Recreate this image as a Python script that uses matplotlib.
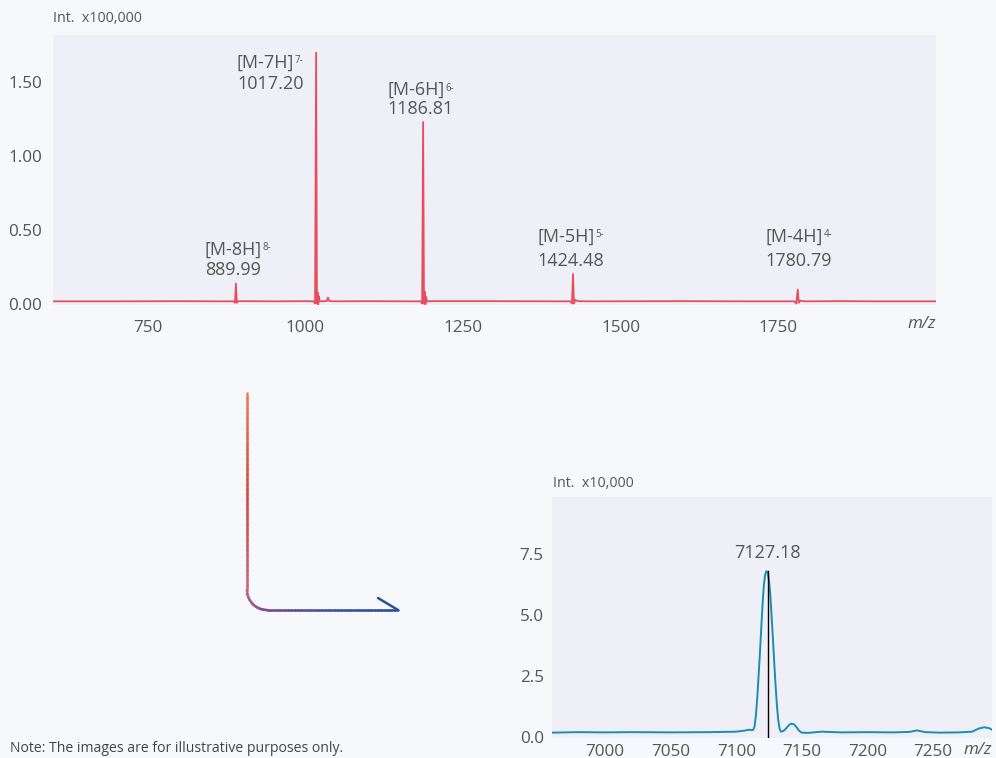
import numpy as np
import matplotlib
matplotlib.use('Agg')
import matplotlib.pyplot as plt
from matplotlib.collections import LineCollection
from matplotlib.colors import LinearSegmentedColormap

plt.rcParams['font.family'] = ['Open Sans', 'DejaVu Sans']

#%% Data - full spectrum (m/z, Int. x100,000)
top_mz = [600, 700, 800, 870, 886, 888.5, 889.99, 891.5, 893, 900, 950, 1000,
          1013, 1015.5, 1017.2, 1018.5, 1019.5, 1020.5, 1021.5, 1023, 1030, 1034, 1036,
          1038, 1045, 1100, 1170, 1183, 1185.3, 1186.81, 1188.2, 1189.5, 1190.5,
          1191.5, 1193, 1200, 1300, 1400, 1420, 1422.8, 1424.48, 1426, 1428, 1432,
          1450, 1600, 1700, 1775, 1778.5, 1780.79, 1782.5, 1785, 1790, 1850, 1900,
          1950, 2000]
top_int = [0.015, 0.015, 0.016, 0.015, 0.015, 0.005, 0.135, 0.005, 0.015, 0.016, 0.015, 0.016,
           0.015, 0.0, 1.70, 0.0, 0.075, -0.005, 0.05, 0.015, 0.016, 0.017, 0.04,
           0.017, 0.015, 0.016, 0.015, 0.015, 0.0, 1.23, 0.0, 0.08, -0.005,
           0.045, 0.015, 0.016, 0.016, 0.015, 0.015, 0.0, 0.20, 0.0, 0.025, 0.016,
           0.015, 0.016, 0.015, 0.015, 0.0, 0.095, 0.005, 0.02, 0.015, 0.016, 0.015,
           0.015, 0.015]

peak_mz = [889.99, 1017.20, 1186.81, 1424.48, 1780.79]
peak_name = ['[M-8H]', '[M-7H]', '[M-6H]', '[M-5H]', '[M-4H]']
peak_charge = ['8-', '7-', '6-', '5-', '4-']
top_xticks = [750, 1000, 1250, 1500, 1750]
top_yticks = [0.0, 0.5, 1.0, 1.5]

# deconvoluted spectrum (m/z, Int. x10,000)
bot_mz = [6960, 6980, 7000, 7020, 7050, 7080, 7100, 7106, 7110, 7112, 7113,
          7114, 7115, 7116, 7117, 7118, 7119, 7120, 7121, 7122, 7123, 7124,
          7125, 7126, 7127, 7128, 7129, 7130, 7131, 7132, 7133, 7134, 7136,
          7138, 7140, 7142, 7144, 7146, 7148, 7150, 7155, 7165, 7180, 7200,
          7220, 7232, 7238, 7244, 7255, 7270, 7280, 7285, 7289, 7293, 7295]
bot_int = [0.18, 0.20, 0.19, 0.20, 0.19, 0.20, 0.22, 0.26, 0.30, 0.28, 0.30,
           0.45, 0.9, 1.6, 2.5, 3.4, 4.4, 5.4, 6.2, 6.65, 6.8, 6.75,
           6.4, 5.8, 4.9, 4.0, 3.0, 2.1, 1.3, 0.7, 0.35, 0.22, 0.25,
           0.35, 0.48, 0.55, 0.52, 0.40, 0.25, 0.18, 0.17, 0.22, 0.19, 0.20,
           0.19, 0.21, 0.27, 0.20, 0.18, 0.19, 0.22, 0.35, 0.40, 0.36, 0.30]
bot_peak = 7124
bot_label = '7127.18'
bot_xticks = [7000, 7050, 7100, 7150, 7200, 7250]
bot_yticks = [0.0, 2.5, 5.0, 7.5]

#%% Style
txt = '#555555'
red = '#e63c4e'
teal = '#1b8db0'
panel = '#eff0f7'

W, H = 996, 758
fig = plt.figure(figsize=(W / 100, H / 100), dpi=100)
fig.patch.set_facecolor('#f7f8fc')

#%% Top spectrum
ax1 = fig.add_axes([53 / W, 1 - 305 / H, 883 / W, 270 / H])
ax1.set_facecolor(panel)
ax1.plot(top_mz, top_int, color=red, lw=1.3, alpha=0.9)
ax1.set_xlim(600, 2000)
ax1.set_ylim(-0.01, 1.82)
ax1.set_xticks(top_xticks)
ax1.set_yticks(top_yticks)
ax1.set_yticklabels(['%.2f' % v for v in top_yticks])
ax1.tick_params(length=0, labelsize=12.3, labelcolor=txt)
ax1.tick_params(axis='y', pad=8)
ax1.tick_params(axis='x', pad=11)
for s in ax1.spines.values():
    s.set_visible(False)
ax1.text(0, 1.06, 'Int.  x100,000', transform=ax1.transAxes, fontsize=10.3,
         color=txt, ha='left', va='center')
ax1.text(1.0, -0.07, 'm/z', transform=ax1.transAxes, fontsize=12.3, style='italic',
         color=txt, ha='right', va='center')

# label layout: left edge (m/z), name y, value y
lab_x = [840.8, 891.6, 1129.7, 1367.9, 1729.7]
lab_y1 = [0.365, 1.635, 1.446, 0.455, 0.455]
lab_y2 = [0.230, 1.486, 1.318, 0.290, 0.290]
for i in range(len(peak_mz)):
    t = ax1.text(lab_x[i], lab_y1[i], peak_name[i], fontsize=13, color=txt,
                 ha='left', va='center')
    ax1.annotate(peak_charge[i], xy=(1.0, 0.9), xycoords=t, xytext=(0.5, 0),
                 textcoords='offset points', fontsize=7, color=txt,
                 ha='left', va='top')
    ax1.text(lab_x[i], lab_y2[i], '%.2f' % peak_mz[i], fontsize=13, color=txt,
             ha='left', va='center')

#%% Bottom spectrum
ax2 = fig.add_axes([552 / W, 1 - 738 / H, 440 / W, 241 / H])
ax2.set_facecolor(panel)
ax2.plot(bot_mz, bot_int, color=teal, lw=1.4)
ax2.plot([bot_peak, bot_peak], [0, max(bot_int)], color='black', lw=1)
ax2.set_xlim(6959.5, 7295)
ax2.set_ylim(-0.04, 9.84)
ax2.set_xticks(bot_xticks)
ax2.set_yticks(bot_yticks)
ax2.tick_params(length=0, labelsize=12.3, labelcolor=txt)
ax2.tick_params(axis='y', pad=6)
ax2.tick_params(axis='x', pad=4)
for s in ax2.spines.values():
    s.set_visible(False)
ax2.text(bot_peak, max(bot_int) + 0.75, bot_label, fontsize=13, color=txt,
         ha='center', va='center')
ax2.text(0.003, 1.055, 'Int.  x10,000', transform=ax2.transAxes, fontsize=10.3,
         color=txt, ha='left', va='center')
ax2.text(1.0, -0.05, 'm/z', transform=ax2.transAxes, fontsize=12.3, style='italic',
         color=txt, ha='right', va='center')

#%% Gradient arrow between the panels (pixel overlay)
ov = fig.add_axes([0, 0, 1, 1], zorder=-1)
ov.set_xlim(0, W)
ov.set_ylim(H, 0)
ov.axis('off')

r = 20
ang = np.linspace(np.pi, np.pi / 2, 20)
px = np.concatenate([np.full(40, 247.0), 267 + r * np.cos(ang), np.linspace(268, 398, 40)])
py = np.concatenate([np.linspace(393, 590, 40), 590 + r * np.sin(ang), np.full(40, 610.0)])
pts = np.array([px, py]).T.reshape(-1, 1, 2)
segs = np.concatenate([pts[:-1], pts[1:]], axis=1)
cmap = LinearSegmentedColormap.from_list('arr', ['#f07a5a', '#d9443c', '#c66a80',
                                                 '#7a4a8c', '#3d55a0', '#2a4fa0'])
lc = LineCollection(segs, cmap=cmap, linewidths=1.8, capstyle='round', antialiased=True)
lc.set_array(np.linspace(0, 1, len(segs)))
ov.add_collection(lc)
ov.plot([378, 398], [598, 610], color='#2a4fa0', lw=1.8, solid_capstyle='round')

fig.text(10 / W, 1 - 748 / H, 'Note: The images are for illustrative purposes only.',
         fontsize=10.1, color='#444444', ha='left', va='center')

fig.savefig('out.png', dpi=100, facecolor=fig.get_facecolor())
